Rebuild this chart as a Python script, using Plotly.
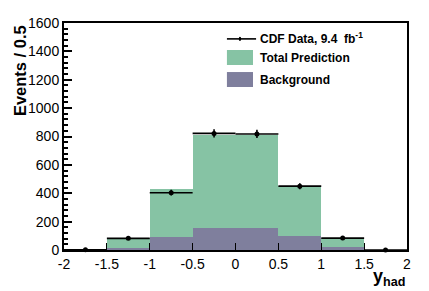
import plotly.graph_objects as go

# Data
bin_centers = [-1.75, -1.25, -0.75, -0.25, 0.25, 0.75, 1.25, 1.75]
bin_halfwidth = [0.25] * 8
data_counts = [1, 82, 404, 822, 818, 450, 84, 0]
data_errors = [0, 9, 20, 29, 29, 21, 9, 0]
total_prediction = [0, 82, 430, 808, 810, 453, 87, 0]
background = [0, 15, 90, 157, 157, 96, 20, 0]
x_ticks = [-2, -1.5, -1, -0.5, 0, 0.5, 1, 1.5, 2]
x_ticktext = ["-2", "-1.5", "-1", "-0.5", "0", "0.5", "1", "1.5", "2"]
y_ticks = [0, 200, 400, 600, 800, 1000, 1200, 1400, 1600]

GREEN = "#86c3a4"
PURPLE = "#7f7f9d"
FONT = "Liberation Sans, Arial, sans-serif"

fig = go.Figure()
fig.add_trace(go.Bar(x=bin_centers, y=total_prediction, width=0.5,
                     marker=dict(color=GREEN, line=dict(width=0)),
                     showlegend=False))
fig.add_trace(go.Bar(x=bin_centers, y=background, width=0.5,
                     marker=dict(color=PURPLE, line=dict(width=0)),
                     showlegend=False))
fig.add_trace(go.Scatter(
    x=bin_centers, y=data_counts, mode="markers",
    marker=dict(color="black", size=5),
    error_x=dict(type="data", array=bin_halfwidth, width=0, thickness=1.6, color="black"),
    error_y=dict(type="data", array=data_errors, width=0, thickness=1.6, color="black"),
    showlegend=False, cliponaxis=False))

fig.update_layout(
    barmode="overlay", bargap=0,
    width=429, height=291,
    margin=dict(l=64, r=22, t=23, b=41),
    plot_bgcolor="white", paper_bgcolor="white",
    font=dict(family=FONT, color="black", size=14),
    xaxis=dict(range=[-2, 2], tickvals=x_ticks, ticktext=x_ticktext,
               ticks="inside", ticklen=7, tickwidth=1.2, tickcolor="black",
               showline=True, linewidth=2, linecolor="black", mirror=True,
               showgrid=False, zeroline=False,
               tickfont=dict(size=14, family=FONT)),
    yaxis=dict(range=[0, 1600], tickvals=y_ticks,
               ticks="inside", ticklen=8, tickwidth=1.5, tickcolor="black",
               minor=dict(ticks="inside", dtick=40, ticklen=4, tickwidth=1.5,
                          tickcolor="black", showgrid=False),
               showline=True, linewidth=2, linecolor="black", mirror=True,
               showgrid=False, zeroline=False,
               tickfont=dict(size=14, family=FONT)),
)

# Axis titles
fig.add_annotation(xref="paper", yref="paper", x=-0.13, y=0.79,
                   text="<b>Events / 0.5</b>", textangle=-90, showarrow=False,
                   font=dict(size=16.5, family=FONT), xanchor="center", yanchor="middle")
fig.add_annotation(xref="paper", yref="paper", x=1.0, y=-0.06,
                   text="<b>y</b><sub><b>had</b></sub>", showarrow=False,
                   font=dict(size=18, family=FONT), xanchor="right", yanchor="top")

# Legend (manual)
lx0, lx1 = 0.475, 0.551
fig.add_shape(type="line", xref="paper", yref="paper", x0=lx0, x1=0.56, y0=0.930, y1=0.930,
              line=dict(color="black", width=1.6))
fig.add_shape(type="circle", xref="paper", yref="paper", x0=0.5095, x1=0.5165,
              y0=0.921, y1=0.939, fillcolor="black", line=dict(width=0))
fig.add_shape(type="rect", xref="paper", yref="paper", x0=lx0, x1=lx1, y0=0.815, y1=0.881,
              fillcolor=GREEN, line=dict(width=0))
fig.add_shape(type="rect", xref="paper", yref="paper", x0=lx0, x1=lx1, y0=0.718, y1=0.784,
              fillcolor=PURPLE, line=dict(width=0))
legend_texts = ["<b>CDF Data, 9.4  fb<sup>-1</sup></b>", "<b>Total Prediction</b>", "<b>Background</b>"]
legend_y = [0.932, 0.848, 0.751]
for t, yy in zip(legend_texts, legend_y):
    fig.add_annotation(xref="paper", yref="paper", x=0.567, y=yy, text=t, showarrow=False,
                       xanchor="left", yanchor="middle", font=dict(size=12, family=FONT))

fig.write_html("out.html", config={"displayModeBar": False},
               post_script="document.body.style.margin='0';document.body.style.overflow='hidden';")
